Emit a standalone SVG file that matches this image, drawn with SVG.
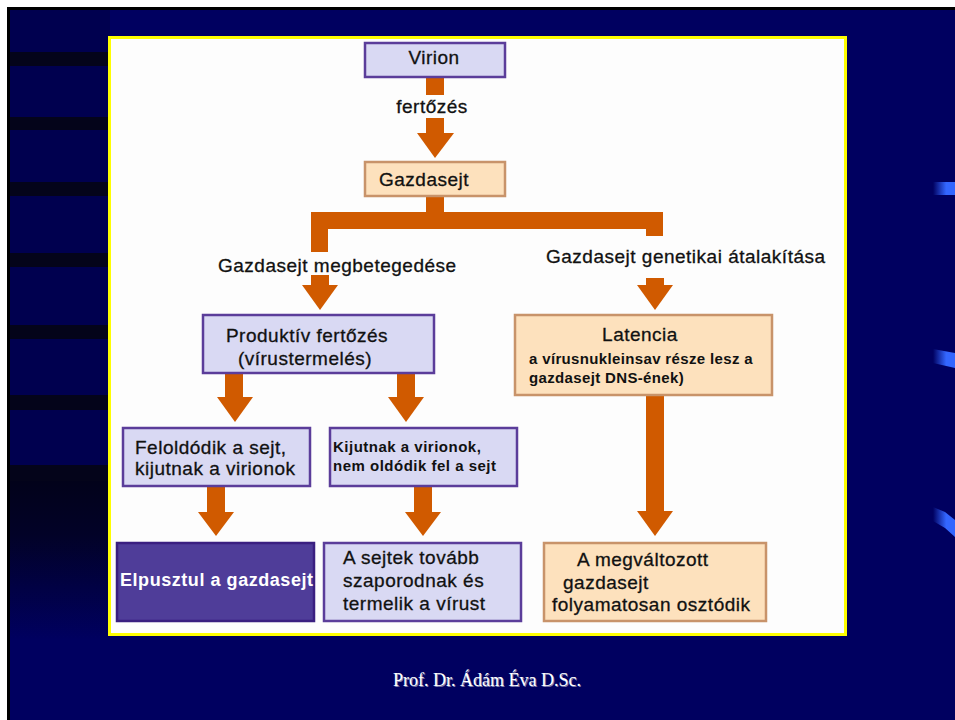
<svg xmlns="http://www.w3.org/2000/svg" width="955" height="720" viewBox="0 0 955 720">
<style>
.lav{fill:#d9d9f3;stroke:#5b3d9a;stroke-width:2.5}
.peach{fill:#fde1bd;stroke:#c8936a;stroke-width:2.5}
.dark{fill:#4f3d99;stroke:#3a1f80;stroke-width:2.5}
.t{font-family:"Liberation Sans",Arial,sans-serif;font-size:19px;letter-spacing:0.5px;fill:#111;stroke:#111;stroke-width:0.3}
.sb{font-family:"Liberation Sans",Arial,sans-serif;font-size:15px;font-weight:bold;fill:#111}
.arr{fill:#d05a00}
.stripe{fill:#04041a}
</style>
<defs>
<linearGradient id="streak" x1="0" y1="0" x2="1" y2="0">
<stop offset="0" stop-color="#000060"/>
<stop offset="0.6" stop-color="#3366ff"/>
<stop offset="1" stop-color="#3366ff"/>
</linearGradient>
<linearGradient id="leftdark" x1="0" y1="0" x2="0" y2="1">
<stop offset="0" stop-color="#02021a"/>
<stop offset="0.35" stop-color="#020228"/>
<stop offset="1" stop-color="#000060"/>
</linearGradient>
</defs>
<!-- background -->
<rect x="0" y="0" width="955" height="720" fill="#ffffff"/>
<rect x="7" y="7" width="948" height="713" fill="#000000"/>
<rect x="10" y="10" width="945" height="710" fill="#000060"/>
<rect x="10" y="10" width="100" height="620" fill="#00004f"/>
<rect x="10" y="480" width="100" height="160" fill="url(#leftdark)"/>
<g class="stripe">
<rect x="10" y="52" width="100" height="14"/>
<rect x="10" y="117" width="100" height="13"/>
<rect x="10" y="182" width="100" height="14"/>
<rect x="10" y="253" width="100" height="14"/>
<rect x="10" y="325" width="100" height="14"/>
<rect x="10" y="395" width="100" height="15"/>
<rect x="10" y="465" width="100" height="16"/>
</g>
<rect x="933" y="182" width="22" height="13" fill="url(#streak)"/>
<polygon points="933,349 955,353 955,368 933,363" fill="url(#streak)"/>
<polygon points="933,507 945,512 955,520 955,537 945,528 933,521" fill="url(#streak)"/>
<!-- panel -->
<rect x="109.5" y="37.5" width="736" height="597" fill="#fdfdfd" stroke="#ffff00" stroke-width="3"/>
<!-- connectors -->
<g id="connectors" class="arr">
<rect x="426" y="78" width="18" height="17"/>
<rect x="426" y="118" width="18" height="16"/>
<polygon points="417,133 454,133 435,158"/>
<polygon points="426,197 444,197 444,212 663,212 663,236 646,236 646,229 328,229 328,252 311,252 311,212 426,212"/>
<rect x="311" y="275" width="18" height="11"/>
<polygon points="302,285 338,285 320,310"/>
<rect x="646" y="278" width="18" height="8"/>
<polygon points="637,285 673,285 655,310"/>
<rect x="225" y="374" width="18" height="24"/>
<polygon points="217,397 253,397 235,422"/>
<rect x="397" y="374" width="18" height="24"/>
<polygon points="388,397 424,397 406,422"/>
<rect x="207" y="487" width="18" height="26"/>
<polygon points="198,512 234,512 216,536"/>
<rect x="414" y="487" width="18" height="26"/>
<polygon points="405,512 441,512 423,536"/>
<rect x="646" y="396" width="18" height="116"/>
<polygon points="637,511 673,511 655,536"/>
</g>
<!-- labels -->
<text class="t" x="432" y="113" text-anchor="middle">fertőzés</text>
<text class="t" x="218" y="272">Gazdasejt megbetegedése</text>
<text class="t" x="546" y="263">Gazdasejt genetikai átalakítása</text>
<!-- nodes -->
<g id="virion">
<rect class="lav" x="365" y="43" width="140" height="34"/>
<text class="t" x="434" y="64" text-anchor="middle">Virion</text>
</g>
<g id="gazdasejt">
<rect class="peach" x="365" y="162" width="140" height="34"/>
<text class="t" x="379" y="186">Gazdasejt</text>
</g>
<g id="produktiv">
<rect class="lav" x="203" y="315" width="231" height="58"/>
<text class="t" x="307" y="342" text-anchor="middle">Produktív fertőzés</text>
<text class="t" x="305" y="365" text-anchor="middle">(vírustermelés)</text>
</g>
<g id="latencia">
<rect class="peach" x="515" y="315" width="257" height="80"/>
<text class="t" x="640" y="341" text-anchor="middle">Latencia</text>
<text class="sb" x="529" y="364" letter-spacing="0.35">a vírusnukleinsav része lesz a</text>
<text class="sb" x="529" y="383" letter-spacing="0.35">gazdasejt DNS-ének)</text>
</g>
<g id="feloldodik">
<rect class="lav" x="123" y="428" width="187" height="58"/>
<text class="t" x="135" y="454">Feloldódik a sejt,</text>
<text class="t" x="135" y="475">kijutnak a virionok</text>
</g>
<g id="kijutnak">
<rect class="lav" x="330" y="428" width="187" height="58"/>
<text class="sb" x="333" y="452" letter-spacing="0.5">Kijutnak a virionok,</text>
<text class="sb" x="333" y="471" letter-spacing="0.5">nem oldódik fel a sejt</text>
</g>
<g id="elpusztul">
<rect class="dark" x="117" y="543" width="197" height="78"/>
<text x="120" y="586" font-family="Liberation Sans, Arial, sans-serif" font-size="18" font-weight="bold" letter-spacing="0.55" fill="#ffffff">Elpusztul a gazdasejt</text>
</g>
<g id="sejtek">
<rect class="lav" x="324" y="543" width="197" height="78"/>
<text class="t" x="343" y="564">A sejtek tovább</text>
<text class="t" x="343" y="587">szaporodnak és</text>
<text class="t" x="343" y="610">termelik a vírust</text>
</g>
<g id="megvaltozott">
<rect class="peach" x="544" y="543" width="222" height="78"/>
<text class="t" x="577" y="566">A megváltozott</text>
<text class="t" x="563" y="589">gazdasejt</text>
<text class="t" x="552" y="611">folyamatosan osztódik</text>
</g>
<!-- footer -->
<g font-family="Liberation Serif, Times New Roman, serif" font-size="18" text-anchor="middle">
<text x="488" y="687" fill="#8080b0">Prof. Dr. Ádám Éva D.Sc.</text>
<text x="487" y="686" fill="#ffffff">Prof. Dr. Ádám Éva D.Sc.</text>
</g>
</svg>
